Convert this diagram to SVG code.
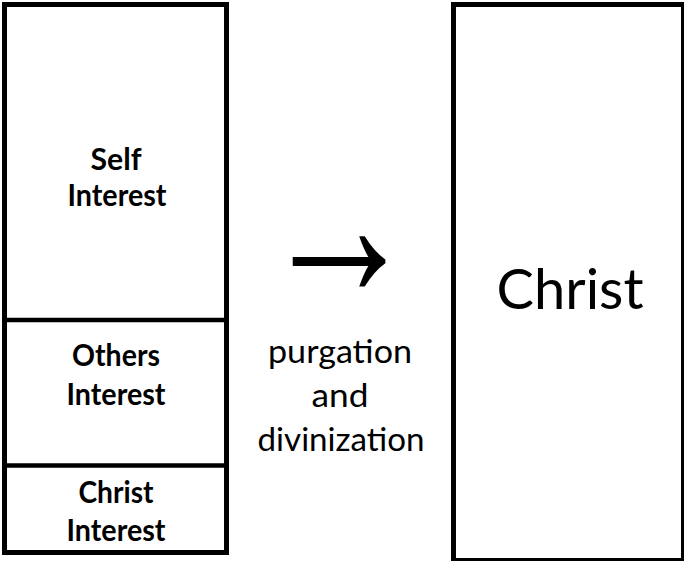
<svg xmlns="http://www.w3.org/2000/svg" width="684" height="561" viewBox="0 0 684 561">
<style>
.box{fill:#fff;stroke:#000;stroke-width:5}
.div{stroke:#000;stroke-width:4.5}
.b{font-family:Lato,"Open Sans",sans-serif;font-weight:bold;font-size:31px;text-anchor:middle;fill:#000}
.r{font-family:Lato,"Open Sans",sans-serif;font-size:32px;text-anchor:middle;fill:#000}
.big{font-family:Lato,"Open Sans",sans-serif;font-size:56px;text-anchor:middle;fill:#000}
.arr{font-family:"Liberation Sans",sans-serif;font-size:176px;text-anchor:middle;fill:#000}
</style>
<rect width="684" height="561" fill="#fff"/>
<g id="left-box">
<rect class="box" x="4.5" y="4.5" width="222" height="548"/>
<line class="div" x1="7" y1="320" x2="224" y2="320"/>
<line class="div" x1="7" y1="465.5" x2="224" y2="465.5"/>
</g>
<g id="self-interest">
<text class="b" x="116" y="170" textLength="51" lengthAdjust="spacingAndGlyphs">Self</text>
<text class="b" x="117" y="206" textLength="99" lengthAdjust="spacingAndGlyphs">Interest</text>
</g>
<g id="others-interest">
<text class="b" x="116" y="366" textLength="88" lengthAdjust="spacingAndGlyphs">Others</text>
<text class="b" x="116" y="405" textLength="99" lengthAdjust="spacingAndGlyphs">Interest</text>
</g>
<g id="christ-interest">
<text class="b" x="116" y="503" textLength="75" lengthAdjust="spacingAndGlyphs">Christ</text>
<text class="b" x="116" y="541" textLength="99" lengthAdjust="spacingAndGlyphs">Interest</text>
</g>
<g id="transition">
<text class="arr" x="339" y="291" transform="translate(339 262) scale(0.89 1.22) translate(-339 -262)">→</text>
<text class="r" x="340" y="363" textLength="144" lengthAdjust="spacingAndGlyphs">purgation</text>
<text class="r" x="340" y="407" textLength="57" lengthAdjust="spacingAndGlyphs">and</text>
<text class="r" x="341" y="451" textLength="167" lengthAdjust="spacingAndGlyphs">divinization</text>
</g>
<g id="christ-box">
<rect class="box" x="453.5" y="4.5" width="230" height="556"/>
<text class="big" x="570" y="309" textLength="147" lengthAdjust="spacingAndGlyphs">Christ</text>
</g>
<g id="connectors"></g>
</svg>
